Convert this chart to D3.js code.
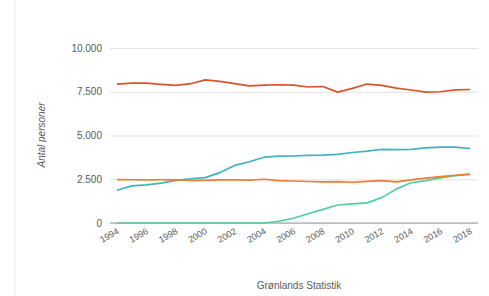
<!DOCTYPE html>
<html>
<head>
<meta charset="utf-8">
<script src="https://cdn.jsdelivr.net/npm/d3@7"></script>
<style>
  body { margin: 0; background: #fff; }
  svg { display: block; font-family: Arial, "Liberation Sans", sans-serif; }
  .grid line { stroke: #e3e3e3; }
  .tick text { fill: #5a5a5a; }
  .series { fill: none; stroke-width: 1.7; stroke-linejoin: round; }
</style>
</head>
<body>
<svg id="chart" width="489" height="296"></svg>
<script>
// years on the x axis
const years = d3.range(1994, 2019);
const yTicks = [0, 2500, 5000, 7500, 10000];
const xTicks = d3.range(1994, 2019, 2);

// series values
const redSeries = [7940, 7990, 7990, 7920, 7860, 7960, 8180, 8090, 7960, 7840, 7880, 7900, 7880, 7770, 7800, 7480, 7690, 7940, 7860, 7710, 7600, 7480, 7500, 7610, 7630];
const orangeSeries = [2480, 2470, 2460, 2470, 2470, 2440, 2440, 2460, 2470, 2450, 2500, 2420, 2400, 2370, 2350, 2360, 2330, 2380, 2420, 2350, 2460, 2560, 2650, 2730, 2790];
const tealSeries = [1870, 2120, 2180, 2280, 2440, 2530, 2590, 2880, 3290, 3500, 3760, 3820, 3830, 3860, 3880, 3920, 4030, 4110, 4210, 4190, 4210, 4290, 4340, 4340, 4250];
const greenSeries = [0, 0, 0, 0, 0, 0, 0, 0, 0, 0, 0, 100, 270, 530, 780, 1030, 1090, 1150, 1450, 1950, 2300, 2420, 2580, 2700, 2780];

const svg = d3.select("#chart");

// faint card border on the left
svg.append("line")
    .attr("x1", 15).attr("x2", 15)
    .attr("y1", 0).attr("y2", 296)
    .attr("stroke", "#eeeeee");

const plot = {left: 110, right: 478, top: 48, bottom: 223};

const x = d3.scaleLinear()
    .domain([1994, 2018])
    .range([117, 470]);

const y = d3.scaleLinear()
    .domain([0, 10000])
    .range([plot.bottom, plot.top]);

const fmt = d3.format(",");
const yLabel = d => fmt(d).replace(/,/g, ".");

// gridlines + y labels
const yAxis = svg.append("g")
    .attr("class", "grid")
    .attr("transform", `translate(${plot.left},0)`)
    .call(d3.axisLeft(y)
        .tickValues(yTicks)
        .tickSize(-(plot.right - plot.left))
        .tickPadding(8)
        .tickFormat(yLabel));
yAxis.select(".domain").remove();
yAxis.selectAll(".tick text")
    .attr("font-size", 10);

// baseline
svg.append("line")
    .attr("x1", plot.left).attr("x2", plot.right)
    .attr("y1", y(0)).attr("y2", y(0))
    .attr("stroke", "#999")
    .attr("stroke-width", 1.2);

// x axis labels, slanted
const xAxis = svg.append("g")
    .attr("transform", `translate(0,${plot.bottom})`)
    .call(d3.axisBottom(x)
        .tickValues(xTicks)
        .tickSize(0)
        .tickFormat(d3.format("d")));
xAxis.select(".domain").remove();
xAxis.selectAll(".tick text")
    .attr("font-size", 9)
    .attr("text-anchor", "end")
    .attr("dy", 0)
    .attr("y", 0)
    .attr("transform", "translate(2,10) rotate(-30)");

// lines
const line = d3.line()
    .x((d, i) => x(years[i]))
    .y(d => y(d));

const series = [
    {values: redSeries, color: "#d9532b"},
    {values: tealSeries, color: "#3fb3c2"},
    {values: greenSeries, color: "#4fcf9f"},
    {values: orangeSeries, color: "#ef7c30"}
];

svg.append("g")
    .selectAll("path")
    .data(series)
    .enter()
    .append("path")
    .attr("class", "series")
    .attr("stroke", d => d.color)
    .attr("d", d => line(d.values));

// axis title
svg.append("text")
    .attr("transform", "translate(45,135) rotate(-90)")
    .attr("text-anchor", "middle")
    .attr("font-size", 10)
    .attr("font-style", "italic")
    .attr("fill", "#5a5a5a")
    .text("Antal personer");

// footer
svg.append("text")
    .attr("x", 299)
    .attr("y", 289)
    .attr("text-anchor", "middle")
    .attr("font-size", 10)
    .attr("fill", "#5a5a5a")
    .text("Grønlands Statistik");
</script>
</body>
</html>
